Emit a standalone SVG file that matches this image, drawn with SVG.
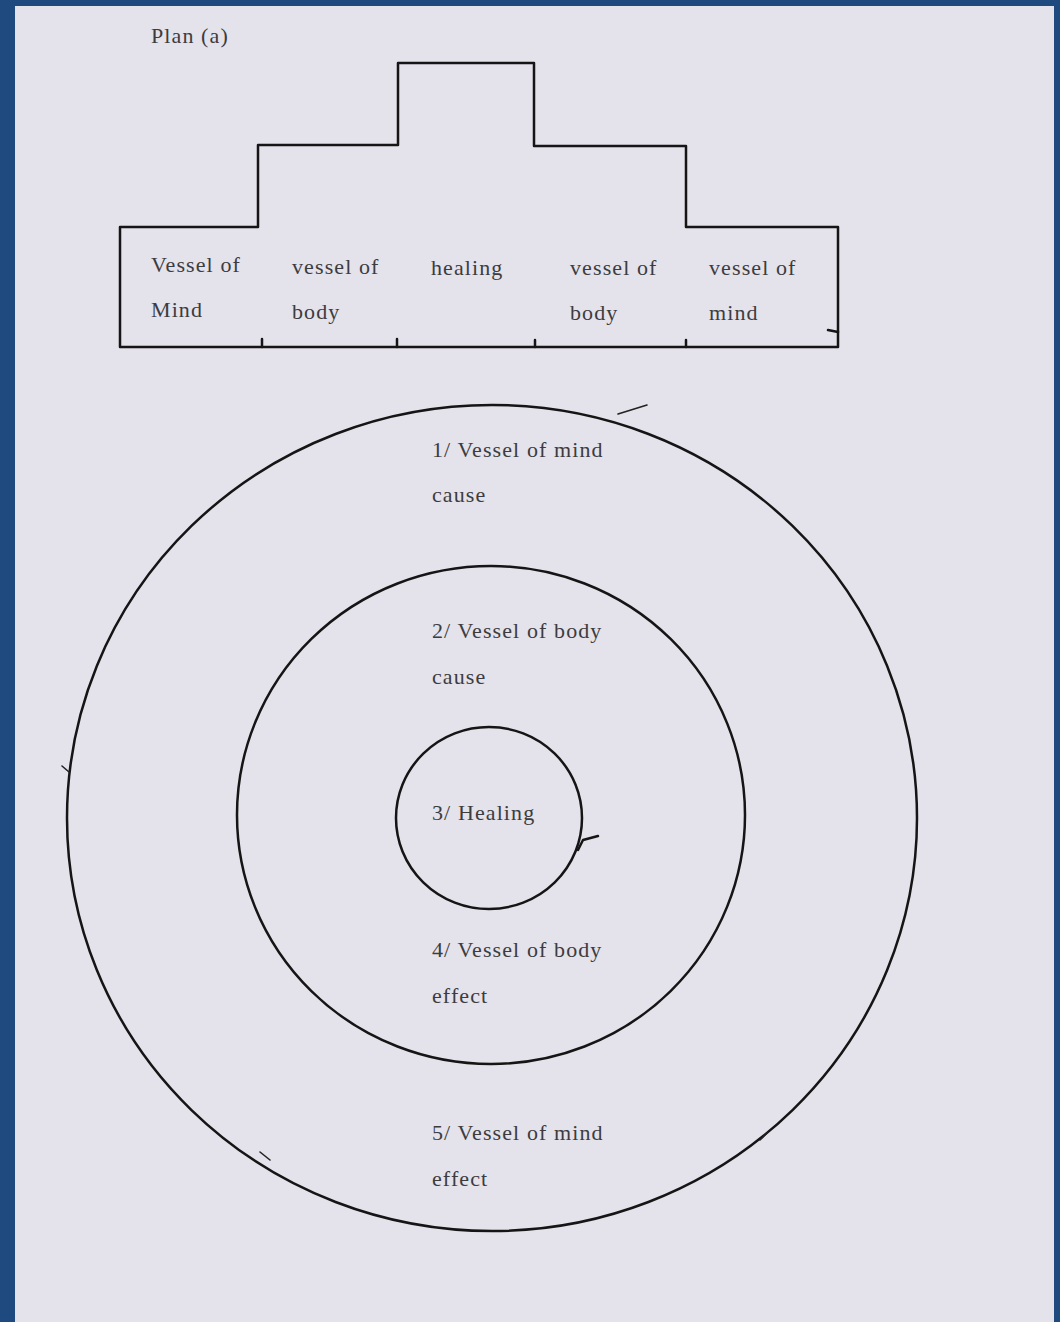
<svg xmlns="http://www.w3.org/2000/svg" width="1060" height="1322" viewBox="0 0 1060 1322">
<defs>
<style>
.t{font-family:"Liberation Serif","DejaVu Serif",serif;font-size:22px;letter-spacing:1.1px;fill:#3c3c40}
.ln{fill:none;stroke:#151515;stroke-width:2.5;stroke-linejoin:round;stroke-linecap:round}
.m{fill:none;stroke:#222;stroke-width:1.6;stroke-linecap:round}
</style>
</defs>
<rect x="0" y="0" width="1060" height="1322" fill="#1f4a80"/>
<rect x="15" y="6" width="1039" height="1316" fill="#e4e2ea"/>
<text class="t" x="151" y="43">Plan (a)</text>
<g id="plan">
<path class="ln" d="M120,227 L258,227 L258,145 L398,145 L398,63 L534,63 L534,146 L686,146 L686,227 L838,227 L838,347 L120,347 Z"/>
<path class="ln" d="M262,347 L262,339 M397,347 L397,339 M535,347 L535,340 M686,347 L686,340 M838,332 L828,330"/>
</g>
<g id="cell1"><text class="t" x="151" y="272">Vessel of</text><text class="t" x="151" y="317">Mind</text></g>
<g id="cell2"><text class="t" x="292" y="274">vessel of</text><text class="t" x="292" y="319">body</text></g>
<g id="cell3"><text class="t" x="431" y="275">healing</text></g>
<g id="cell4"><text class="t" x="570" y="275">vessel of</text><text class="t" x="570" y="320">body</text></g>
<g id="cell5"><text class="t" x="709" y="275">vessel of</text><text class="t" x="709" y="320">mind</text></g>
<g id="connectors">
<ellipse class="ln" cx="492" cy="818" rx="425" ry="413"/>
<ellipse class="ln" cx="491" cy="815" rx="254" ry="249"/>
<ellipse class="ln" cx="489" cy="818" rx="93" ry="91"/>
<path class="ln" d="M578,850 L583,840 L598,836"/>
<path class="m" d="M62,766 L69,772 M618,414 L647,405 M260,1152 L270,1160 M760,1140 L768,1132"/>
</g>
<g id="ring1"><text class="t" x="432" y="457">1/ Vessel of mind</text><text class="t" x="432" y="502">cause</text></g>
<g id="ring2"><text class="t" x="432" y="638">2/ Vessel of body</text><text class="t" x="432" y="684">cause</text></g>
<g id="ring3"><text class="t" x="432" y="820">3/ Healing</text></g>
<g id="ring4"><text class="t" x="432" y="957">4/ Vessel of body</text><text class="t" x="432" y="1003">effect</text></g>
<g id="ring5"><text class="t" x="432" y="1140">5/ Vessel of mind</text><text class="t" x="432" y="1186">effect</text></g>
</svg>
